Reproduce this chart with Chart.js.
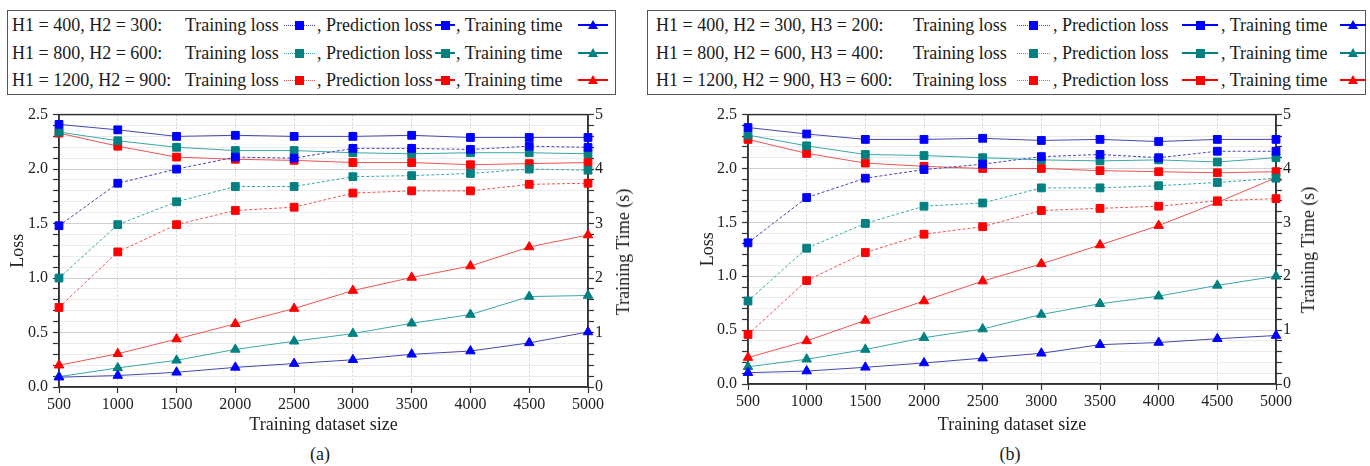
<!DOCTYPE html>
<html><head><meta charset="utf-8">
<script src="https://cdn.jsdelivr.net/npm/chart.js@4.4.1/dist/chart.umd.min.js"></script>
<style>
html,body{margin:0;padding:0;background:#fff;}
body{width:1370px;height:466px;overflow:hidden;position:relative;font-family:"Liberation Serif","Times New Roman",serif;color:#1a1a1a;}
.box{position:absolute;border:1px solid #555;box-sizing:border-box;}
.t{position:absolute;font-size:18px;line-height:22px;white-space:nowrap;}
canvas{position:absolute;}
.rt{position:absolute;font-size:18px;line-height:22px;white-space:nowrap;transform:translate(-50%,-50%) rotate(-90deg);}
.pl{position:absolute;font-size:18px;line-height:22px;transform:translate(-50%,-50%);}
</style>
</head><body>
<div class="box" style="left:7px;top:10px;width:609px;height:85px;"></div>
<div class="box" style="left:647px;top:10px;width:719px;height:85px;"></div>
<canvas id="ca" width="638" height="340" style="left:0px;top:100px;width:638px;height:340px;"></canvas>
<canvas id="cb" width="645" height="340" style="left:685px;top:100px;width:645px;height:340px;"></canvas>
<div class="rt" style="left:623px;top:252px;">Training Time (s)</div>
<div class="rt" style="left:1308px;top:250px;">Training Time (s)</div>
<div class="pl" style="left:320px;top:454px;">(a)</div>
<div class="pl" style="left:1010px;top:454px;">(b)</div>
<script>
// ---------- DATA ----------
const sizes = [500, 1000, 1500, 2000, 2500, 3000, 3500, 4000, 4500, 5000];
const lossTickLabels = ['0.0', '0.5', '1.0', '1.5', '2.0', '2.5'];
const timeTickLabels = ['0', '1', '2', '3', '4', '5'];
const seriesNames = ['Training loss', 'Prediction loss', 'Training time'];
const configsA = ['H1 = 400, H2 = 300:', 'H1 = 800, H2 = 600:', 'H1 = 1200, H2 = 900:'];
const configsB = ['H1 = 400, H2 = 300, H3 = 200:', 'H1 = 800, H2 = 600, H3 = 400:', 'H1 = 1200, H2 = 900, H3 = 600:'];

// (a) two hidden layers
const trainLossA1 = [1.48, 1.87, 2.00, 2.11, 2.10, 2.19, 2.19, 2.18, 2.21, 2.20];
const predLossA1  = [2.41, 2.36, 2.30, 2.31, 2.30, 2.30, 2.31, 2.29, 2.29, 2.29];
const timeA1      = [0.18, 0.21, 0.27, 0.36, 0.43, 0.50, 0.60, 0.66, 0.81, 1.01];
const trainLossA2 = [1.00, 1.49, 1.70, 1.84, 1.84, 1.93, 1.94, 1.96, 2.00, 1.99];
const predLossA2  = [2.34, 2.26, 2.20, 2.17, 2.17, 2.15, 2.14, 2.15, 2.15, 2.14];
const timeA2      = [0.19, 0.35, 0.49, 0.69, 0.84, 0.98, 1.17, 1.33, 1.66, 1.68];
const trainLossA3 = [0.73, 1.24, 1.49, 1.62, 1.65, 1.78, 1.80, 1.80, 1.86, 1.87];
const predLossA3  = [2.33, 2.21, 2.11, 2.09, 2.08, 2.06, 2.06, 2.04, 2.05, 2.06];
const timeA3      = [0.40, 0.61, 0.88, 1.16, 1.44, 1.77, 2.01, 2.22, 2.57, 2.79];

// (b) three hidden layers
const trainLossB1 = [1.31, 1.73, 1.91, 1.99, 2.04, 2.11, 2.13, 2.10, 2.16, 2.16];
const predLossB1  = [2.38, 2.32, 2.27, 2.27, 2.28, 2.26, 2.27, 2.25, 2.27, 2.27];
const timeB1      = [0.21, 0.24, 0.31, 0.39, 0.48, 0.57, 0.73, 0.77, 0.84, 0.90];
const trainLossB2 = [0.77, 1.26, 1.49, 1.65, 1.68, 1.82, 1.82, 1.84, 1.87, 1.91];
const predLossB2  = [2.31, 2.21, 2.13, 2.12, 2.10, 2.08, 2.07, 2.08, 2.06, 2.10];
const timeB2      = [0.32, 0.46, 0.64, 0.86, 1.02, 1.29, 1.49, 1.63, 1.83, 2.00];
const trainLossB3 = [0.46, 0.96, 1.22, 1.39, 1.46, 1.61, 1.63, 1.65, 1.70, 1.72];
const predLossB3  = [2.27, 2.14, 2.05, 2.02, 2.00, 2.00, 1.98, 1.97, 1.96, 1.97];
const timeB3      = [0.49, 0.80, 1.18, 1.54, 1.91, 2.23, 2.58, 2.94, 3.37, 3.83];

// ---------- STYLE ----------
const markColors = ['#0000ff', '#008080', '#ff0000'];
const lineColors = ['#4646b4', '#3aa8a8', '#ee5555'];
const FONT = '"Liberation Serif", "Times New Roman", serif';

// ---------- LEGENDS ----------
function addText(x, yc, txt) {
  const d = document.createElement('div');
  d.className = 't'; d.style.left = x + 'px'; d.style.top = (yc - 11) + 'px';
  d.textContent = txt; document.body.appendChild(d);
}
function addIcon(x1, x2, yc, ci, dotted, marker) {
  const l = document.createElement('div');
  const th = dotted ? 1 : 2;
  l.style.cssText = `position:absolute;left:${x1}px;top:${yc - Math.floor(th/2)}px;width:${x2 - x1}px;height:0;border-top:${th}px ${dotted ? 'dotted' : 'solid'} ${dotted ? lineColors[ci] : markColors[ci]};`;
  document.body.appendChild(l);
  const m = document.createElement('div');
  const mx = (x1 + x2) / 2;
  if (marker === 'rect') {
    m.style.cssText = `position:absolute;left:${mx - 4.5}px;top:${yc - 4.5}px;width:9px;height:9px;background:${markColors[ci]};`;
  } else {
    m.style.cssText = `position:absolute;left:${mx - 5}px;top:${yc - 5}px;width:0;height:0;border-left:5px solid transparent;border-right:5px solid transparent;border-bottom:9px solid ${markColors[ci]};`;
  }
  document.body.appendChild(m);
}
const rowsY = [25, 53, 80];
function buildLegend(configs, L) {
  configs.forEach((c, i) => {
    const y = rowsY[i];
    addText(L.label, y, c);
    addText(L.train, y, seriesNames[0]);
    addIcon(L.ic1[0], L.ic1[1], y, i, true, 'rect');
    addText(L.pred, y, ', ' + seriesNames[1]);
    addIcon(L.ic2[0], L.ic2[1], y, i, false, 'rect');
    addText(L.time, y, ', ' + seriesNames[2]);
    addIcon(L.ic3[0], L.ic3[1], y, i, false, 'tri');
  });
}
buildLegend(configsA, {label: 12, train: 185, ic1: [284, 315], pred: 317, ic2: [435, 455], time: 456, ic3: [578, 608]});
buildLegend(configsB, {label: 656, train: 913, ic1: [1017, 1050], pred: 1053, ic2: [1182, 1218], time: 1221, ic3: [1340, 1366]});

// ---------- CHARTS ----------
const framePlugin = {
  id: 'frame',
  beforeDatasetsDraw(chart) {
    const {ctx, chartArea: a} = chart;
    ctx.save();
    ctx.strokeStyle = '#333'; ctx.lineWidth = 1.5;
    ctx.strokeRect(a.left, a.top, a.right - a.left, a.bottom - a.top);
    ctx.restore();
  }
};

function isMajor(v, step) { return Math.abs(v / step - Math.round(v / step)) < 1e-6; }

function makeChart(id, groups, geo) {
  const datasets = [];
  groups.forEach((g, i) => {
    const common = {borderColor: lineColors[i], borderWidth: 1, pointBackgroundColor: markColors[i],
      pointBorderColor: markColors[i], pointBorderWidth: 1, clip: false, tension: 0, fill: false};
    datasets.push(Object.assign({label: seriesNames[0], data: sizes.map((x, k) => ({x, y: g.train[k]})),
      yAxisID: 'y', borderDash: [3, 2], pointStyle: 'rect', pointRadius: 5.5}, common));
    datasets.push(Object.assign({label: seriesNames[1], data: sizes.map((x, k) => ({x, y: g.pred[k]})),
      yAxisID: 'y', pointStyle: 'rect', pointRadius: 5.5}, common));
    datasets.push(Object.assign({label: seriesNames[2], data: sizes.map((x, k) => ({x, y: g.time[k]})),
      yAxisID: 'y1', pointStyle: 'triangle', pointRadius: 5.5}, common));
  });
  return new Chart(document.getElementById(id), {
    type: 'line',
    data: {datasets},
    plugins: [framePlugin],
    options: {
      responsive: false, animation: false, devicePixelRatio: 1,
      layout: {padding: {top: geo.padTop, left: 0, right: 0, bottom: 0}},
      plugins: {legend: {display: false}, tooltip: {enabled: false}},
      scales: {
        x: {
          type: 'linear', min: 500, max: 5000,
          afterFit: s => { s.height = geo.xH; },
          ticks: {stepSize: 500, autoSkip: false, maxRotation: 0, padding: 2, color: '#222',
            font: {family: FONT, size: 16}, callback: v => String(v)},
          grid: {color: '#d4d4d4', lineWidth: 1, tickLength: 6, tickColor: '#333', tickWidth: 1.2},
          border: {display: true, color: '#333', width: 1.5, dash: [2, 2]},
          title: {display: true, text: 'Training dataset size', color: '#222',
            font: {family: FONT, size: 18}, padding: {top: 0, bottom: 4}}
        },
        y: {
          type: 'linear', position: 'left', min: 0, max: 2.5,
          afterFit: s => { s.width = geo.yW; },
          ticks: {stepSize: 0.1, autoSkip: false, padding: 5, color: '#222', font: {family: FONT, size: 16},
            callback: v => isMajor(v, 0.5) ? lossTickLabels[Math.round(v / 0.5)] : ''},
          grid: {color: c => (c.tick && isMajor(c.tick.value, 0.5)) ? '#d0d0d0' : '#ececec',
            lineWidth: 1, tickLength: 6, tickColor: '#333', tickWidth: 1.2},
          border: {display: true, color: '#333', width: 1.5},
          title: {display: true, text: 'Loss', color: '#222', font: {family: FONT, size: 18},
            padding: {top: geo.titlePad, bottom: 0}}
        },
        y1: {
          type: 'linear', position: 'right', min: 0, max: 5,
          afterFit: s => { s.width = geo.y1W; },
          ticks: {stepSize: 0.2, autoSkip: false, padding: 1, color: '#222', font: {family: FONT, size: 16},
            callback: v => isMajor(v, 1) ? timeTickLabels[Math.round(v)] : ''},
          grid: {drawOnChartArea: false, tickLength: 6, tickColor: '#333', tickWidth: 1.2},
          border: {display: true, color: '#333', width: 1.5}
        }
      }
    }
  });
}

makeChart('ca', [
  {train: trainLossA1, pred: predLossA1, time: timeA1},
  {train: trainLossA2, pred: predLossA2, time: timeA2},
  {train: trainLossA3, pred: predLossA3, time: timeA3}
], {padTop: 12, xH: 53, yW: 59, y1W: 50, titlePad: 7});

makeChart('cb', [
  {train: trainLossB1, pred: predLossB1, time: timeB1},
  {train: trainLossB2, pred: predLossB2, time: timeB2},
  {train: trainLossB3, pred: predLossB3, time: timeB3}
], {padTop: 11, xH: 56, yW: 63, y1W: 54, titlePad: 12});
</script>
</body></html>
